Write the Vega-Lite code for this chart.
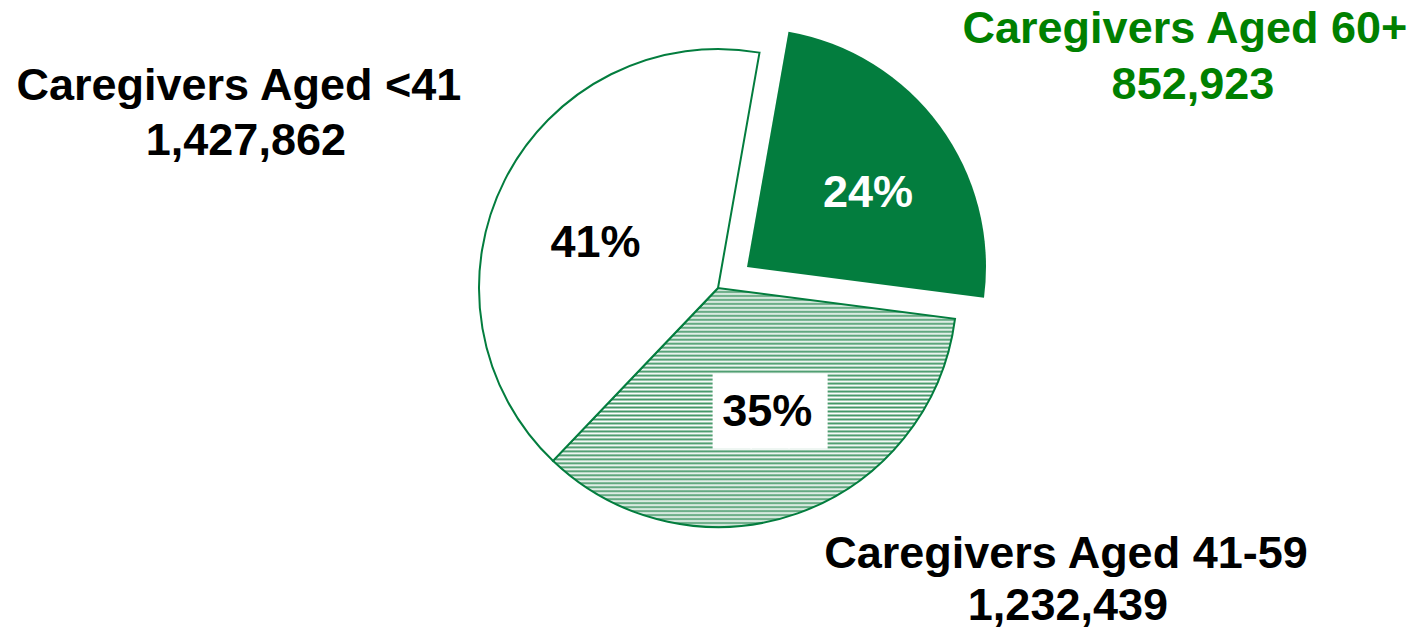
{
  "$schema": "https://vega.github.io/schema/vega-lite/v6.json",
  "width": 1392,
  "height": 576,
  "autosize": {"type": "none"},
  "padding": {"left": 22, "top": 0, "right": 0, "bottom": 54},
  "background": "white",
  "config": {
    "view": {"stroke": null},
    "text": {"font": "Liberation Sans", "fontWeight": "bold"}
  },
  "data": {
    "values": [
      {"group": "Caregivers Aged 60+", "count": 852923, "share": 0.24},
      {"group": "Caregivers Aged 41-59", "count": 1232439, "share": 0.35},
      {"group": "Caregivers Aged <41", "count": 1427862, "share": 0.41}
    ]
  },
  "encoding": {
    "theta": {"field": "count", "type": "quantitative", "stack": true, "scale": {"range": [0.1745, 6.4577], "nice": false, "zero": true}},
    "order": {"field": "count", "type": "quantitative", "sort": "ascending"},
    "detail": {"field": "group", "type": "nominal"}
  },
  "layer": [
    {
      "mark": {"type": "arc", "radius": 239, "stroke": "#037d3e", "strokeWidth": 2},
      "encoding": {
        "fill": {"condition": {"test": "datum.group === 'Caregivers Aged 41-59'", "value": {"gradient": "linear", "x1": 0, "y1": 0, "x2": 0, "y2": 1, "stops": [
          {"offset": 0, "color": "#439767"}, {"offset": 0.00833, "color": "#ffffff"},
          {"offset": 0.01667, "color": "#439767"}, {"offset": 0.025, "color": "#ffffff"},
          {"offset": 0.03333, "color": "#439767"}, {"offset": 0.04167, "color": "#ffffff"},
          {"offset": 0.05, "color": "#439767"}, {"offset": 0.05833, "color": "#ffffff"},
          {"offset": 0.06667, "color": "#439767"}, {"offset": 0.075, "color": "#ffffff"},
          {"offset": 0.08333, "color": "#439767"}, {"offset": 0.09167, "color": "#ffffff"},
          {"offset": 0.1, "color": "#439767"}, {"offset": 0.10833, "color": "#ffffff"},
          {"offset": 0.11667, "color": "#439767"}, {"offset": 0.125, "color": "#ffffff"},
          {"offset": 0.13333, "color": "#439767"}, {"offset": 0.14167, "color": "#ffffff"},
          {"offset": 0.15, "color": "#439767"}, {"offset": 0.15833, "color": "#ffffff"},
          {"offset": 0.16667, "color": "#439767"}, {"offset": 0.175, "color": "#ffffff"},
          {"offset": 0.18333, "color": "#439767"}, {"offset": 0.19167, "color": "#ffffff"},
          {"offset": 0.2, "color": "#439767"}, {"offset": 0.20833, "color": "#ffffff"},
          {"offset": 0.21667, "color": "#439767"}, {"offset": 0.225, "color": "#ffffff"},
          {"offset": 0.23333, "color": "#439767"}, {"offset": 0.24167, "color": "#ffffff"},
          {"offset": 0.25, "color": "#439767"}, {"offset": 0.25833, "color": "#ffffff"},
          {"offset": 0.26667, "color": "#439767"}, {"offset": 0.275, "color": "#ffffff"},
          {"offset": 0.28333, "color": "#439767"}, {"offset": 0.29167, "color": "#ffffff"},
          {"offset": 0.3, "color": "#439767"}, {"offset": 0.30833, "color": "#ffffff"},
          {"offset": 0.31667, "color": "#439767"}, {"offset": 0.325, "color": "#ffffff"},
          {"offset": 0.33333, "color": "#439767"}, {"offset": 0.34167, "color": "#ffffff"},
          {"offset": 0.35, "color": "#439767"}, {"offset": 0.35833, "color": "#ffffff"},
          {"offset": 0.36667, "color": "#439767"}, {"offset": 0.375, "color": "#ffffff"},
          {"offset": 0.38333, "color": "#439767"}, {"offset": 0.39167, "color": "#ffffff"},
          {"offset": 0.4, "color": "#439767"}, {"offset": 0.40833, "color": "#ffffff"},
          {"offset": 0.41667, "color": "#439767"}, {"offset": 0.425, "color": "#ffffff"},
          {"offset": 0.43333, "color": "#439767"}, {"offset": 0.44167, "color": "#ffffff"},
          {"offset": 0.45, "color": "#439767"}, {"offset": 0.45833, "color": "#ffffff"},
          {"offset": 0.46667, "color": "#439767"}, {"offset": 0.475, "color": "#ffffff"},
          {"offset": 0.48333, "color": "#439767"}, {"offset": 0.49167, "color": "#ffffff"},
          {"offset": 0.5, "color": "#439767"}, {"offset": 0.50833, "color": "#ffffff"},
          {"offset": 0.51667, "color": "#439767"}, {"offset": 0.525, "color": "#ffffff"},
          {"offset": 0.53333, "color": "#439767"}, {"offset": 0.54167, "color": "#ffffff"},
          {"offset": 0.55, "color": "#439767"}, {"offset": 0.55833, "color": "#ffffff"},
          {"offset": 0.56667, "color": "#439767"}, {"offset": 0.575, "color": "#ffffff"},
          {"offset": 0.58333, "color": "#439767"}, {"offset": 0.59167, "color": "#ffffff"},
          {"offset": 0.6, "color": "#439767"}, {"offset": 0.60833, "color": "#ffffff"},
          {"offset": 0.61667, "color": "#439767"}, {"offset": 0.625, "color": "#ffffff"},
          {"offset": 0.63333, "color": "#439767"}, {"offset": 0.64167, "color": "#ffffff"},
          {"offset": 0.65, "color": "#439767"}, {"offset": 0.65833, "color": "#ffffff"},
          {"offset": 0.66667, "color": "#439767"}, {"offset": 0.675, "color": "#ffffff"},
          {"offset": 0.68333, "color": "#439767"}, {"offset": 0.69167, "color": "#ffffff"},
          {"offset": 0.7, "color": "#439767"}, {"offset": 0.70833, "color": "#ffffff"},
          {"offset": 0.71667, "color": "#439767"}, {"offset": 0.725, "color": "#ffffff"},
          {"offset": 0.73333, "color": "#439767"}, {"offset": 0.74167, "color": "#ffffff"},
          {"offset": 0.75, "color": "#439767"}, {"offset": 0.75833, "color": "#ffffff"},
          {"offset": 0.76667, "color": "#439767"}, {"offset": 0.775, "color": "#ffffff"},
          {"offset": 0.78333, "color": "#439767"}, {"offset": 0.79167, "color": "#ffffff"},
          {"offset": 0.8, "color": "#439767"}, {"offset": 0.80833, "color": "#ffffff"},
          {"offset": 0.81667, "color": "#439767"}, {"offset": 0.825, "color": "#ffffff"},
          {"offset": 0.83333, "color": "#439767"}, {"offset": 0.84167, "color": "#ffffff"},
          {"offset": 0.85, "color": "#439767"}, {"offset": 0.85833, "color": "#ffffff"},
          {"offset": 0.86667, "color": "#439767"}, {"offset": 0.875, "color": "#ffffff"},
          {"offset": 0.88333, "color": "#439767"}, {"offset": 0.89167, "color": "#ffffff"},
          {"offset": 0.9, "color": "#439767"}, {"offset": 0.90833, "color": "#ffffff"},
          {"offset": 0.91667, "color": "#439767"}, {"offset": 0.925, "color": "#ffffff"},
          {"offset": 0.93333, "color": "#439767"}, {"offset": 0.94167, "color": "#ffffff"},
          {"offset": 0.95, "color": "#439767"}, {"offset": 0.95833, "color": "#ffffff"},
          {"offset": 0.96667, "color": "#439767"}, {"offset": 0.975, "color": "#ffffff"},
          {"offset": 0.98333, "color": "#439767"}, {"offset": 0.99167, "color": "#ffffff"},
          {"offset": 1, "color": "#439767"}
        ]}}, "value": "#ffffff"},
        "opacity": {"condition": {"test": "datum.group === 'Caregivers Aged 60+'", "value": 0}, "value": 1}
      }
    },
    {
      "mark": {"type": "arc", "radius": 239, "xOffset": 29, "yOffset": -21, "fill": "#037d3e", "strokeWidth": 0},
      "encoding": {
        "opacity": {"condition": {"test": "datum.group === 'Caregivers Aged 60+'", "value": 1}, "value": 0}
      }
    },
    {
      "mark": {"type": "text", "radius": 130, "dx": 9, "dy": 22, "fontSize": 63, "font": "DejaVu Sans Mono", "fontWeight": "normal", "align": "center", "baseline": "alphabetic", "fill": "#ffffff"},
      "encoding": {
        "text": {"condition": {"test": "datum.group === 'Caregivers Aged 41-59'", "value": "███"}, "value": ""}
      }
    },
    {
      "mark": {"type": "text", "radius": 175, "dx": 9, "dy": 23, "fontSize": 45, "align": "center", "baseline": "alphabetic", "fill": "#ffffff"},
      "encoding": {
        "text": {"condition": {"test": "datum.group === 'Caregivers Aged 60+'", "field": "share", "type": "quantitative", "format": ".0%"}, "value": ""}
      }
    },
    {
      "mark": {"type": "text", "radius": 130, "dx": 6, "dy": 15, "fontSize": 45, "align": "center", "baseline": "alphabetic", "fill": "#000000"},
      "encoding": {
        "text": {"condition": {"test": "datum.group === 'Caregivers Aged 41-59'", "field": "share", "type": "quantitative", "format": ".0%"}, "value": ""}
      }
    },
    {
      "mark": {"type": "text", "radius": 125, "dx": -11, "dy": 25, "fontSize": 45, "align": "center", "baseline": "alphabetic", "fill": "#000000"},
      "encoding": {
        "text": {"condition": {"test": "datum.group === 'Caregivers Aged <41'", "field": "share", "type": "quantitative", "format": ".0%"}, "value": ""}
      }
    },
    {
      "mark": {"type": "text", "radius": 500, "dx": 64, "dy": 51, "fontSize": 45, "align": "center", "baseline": "alphabetic", "fill": "#008000"},
      "encoding": {
        "text": {"condition": {"test": "datum.group === 'Caregivers Aged 60+'", "field": "group", "type": "nominal"}, "value": ""}
      }
    },
    {
      "mark": {"type": "text", "radius": 500, "dx": 72, "dy": 107, "fontSize": 45, "align": "center", "baseline": "alphabetic", "fill": "#008000"},
      "encoding": {
        "text": {"condition": {"test": "datum.group === 'Caregivers Aged 60+'", "field": "count", "type": "quantitative", "format": ","}, "value": ""}
      }
    },
    {
      "mark": {"type": "text", "radius": 300, "dx": 248, "dy": -3, "fontSize": 45, "align": "center", "baseline": "alphabetic", "fill": "#000000"},
      "encoding": {
        "text": {"condition": {"test": "datum.group === 'Caregivers Aged 41-59'", "field": "group", "type": "nominal"}, "value": ""}
      }
    },
    {
      "mark": {"type": "text", "radius": 300, "dx": 250, "dy": 49, "fontSize": 45, "align": "center", "baseline": "alphabetic", "fill": "#000000"},
      "encoding": {
        "text": {"condition": {"test": "datum.group === 'Caregivers Aged 41-59'", "field": "count", "type": "quantitative", "format": ","}, "value": ""}
      }
    },
    {
      "mark": {"type": "text", "radius": 500, "dx": -33, "dy": 38, "fontSize": 45, "align": "center", "baseline": "alphabetic", "fill": "#000000"},
      "encoding": {
        "text": {"condition": {"test": "datum.group === 'Caregivers Aged <41'", "field": "group", "type": "nominal"}, "value": ""}
      }
    },
    {
      "mark": {"type": "text", "radius": 500, "dx": -26, "dy": 93, "fontSize": 45, "align": "center", "baseline": "alphabetic", "fill": "#000000"},
      "encoding": {
        "text": {"condition": {"test": "datum.group === 'Caregivers Aged <41'", "field": "count", "type": "quantitative", "format": ","}, "value": ""}
      }
    }
  ]
}
